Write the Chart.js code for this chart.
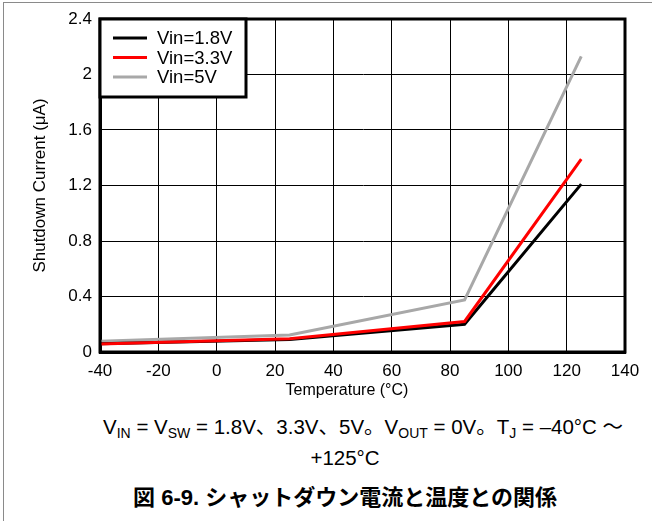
<!DOCTYPE html>
<html>
<head>
<meta charset="utf-8">
<script src="https://cdn.jsdelivr.net/npm/chart.js@4.4.1/dist/chart.umd.min.js"></script>
<style>
  html, body { margin: 0; padding: 0; background: #fff; }
  #wrap { position: relative; width: 652px; height: 521px; overflow: hidden;
          font-family: Arial, "Liberation Sans", "Noto Sans CJK JP", sans-serif; color: #000; }
  #frame { position: absolute; left: 3px; top: 2px; width: 700px; height: 600px;
           border-left: 1px solid #8a8a8a; border-top: 1px solid #8a8a8a; }
  #chart { position: absolute; left: 0; top: 0; }
  .cap { position: absolute; white-space: nowrap; font-size: 20.5px; line-height: 24px; }
  .cap sub { font-size: 14px; vertical-align: -4px; line-height: 0; }
  #cap1 { left: 103px; top: 415px; text-align: left; }
  #cap2 { left: 45px; width: 600px; top: 446px; text-align: center; }
  #fig  { left: 45px; width: 600px; top: 486px; text-align: center; font-weight: bold; font-size: 22px; }
</style>
</head>
<body>
<div id="wrap">
  <div id="frame"></div>
  <canvas id="chart" width="652" height="400"></canvas>
  <div class="cap" id="cap1">V<sub>IN</sub> = V<sub>SW</sub> = 1.8V、3.3V、5V。V<sub>OUT</sub> = 0V。T<sub>J</sub> = –40°C ～</div>
  <div class="cap" id="cap2">+125°C</div>
  <div class="cap" id="fig">図 6-9. シャットダウン電流と温度との関係</div>
</div>
<script>
// ===== DATA =====
const temps = [-40, 25, 85, 125];
const vin18 = [0.06, 0.09, 0.20, 1.21];
const vin33 = [0.058, 0.095, 0.22, 1.39];
const vin50 = [0.077, 0.122, 0.375, 2.13];
const seriesLabels = ['Vin=1.8V', 'Vin=3.3V', 'Vin=5V'];
const xTicks = [-40, -20, 0, 20, 40, 60, 80, 100, 120, 140];
const yTicks = [0, 0.4, 0.8, 1.2, 1.6, 2, 2.4];

const FONT = 'Arial, "Liberation Sans", sans-serif';

function pts(ys) {
    return temps.map((t, i) => ({ x: t, y: ys[i] }));
}

// plot frame: top + right edges (left/bottom come from the axis borders)
const frameBox = {
    id: 'frameBox',
    afterDatasetsDraw(chart) {
        const { ctx, chartArea: a } = chart;
        ctx.save();
        ctx.strokeStyle = '#000';
        ctx.lineWidth = 3;
        ctx.strokeRect(a.left, a.top, a.right - a.left, a.bottom - a.top);
        ctx.restore();
    }
};

// boxed legend in the top-left corner of the plot
const boxLegend = {
    id: 'boxLegend',
    afterDraw(chart) {
        const { ctx, chartArea: a } = chart;
        const w = 146, h = 78;
        ctx.save();
        ctx.fillStyle = '#fff';
        ctx.fillRect(a.left, a.top, w, h);
        ctx.strokeStyle = '#000';
        ctx.lineWidth = 3;
        ctx.strokeRect(a.left, a.top, w, h);
        ctx.font = '18.5px ' + FONT;
        ctx.textBaseline = 'middle';
        chart.data.datasets.forEach((ds, i) => {
            const y = a.top + 19 + i * 19.5;
            ctx.strokeStyle = ds.borderColor;
            ctx.lineWidth = 3;
            ctx.beginPath();
            ctx.moveTo(a.left + 13, y);
            ctx.lineTo(a.left + 47, y);
            ctx.stroke();
            ctx.fillStyle = '#000';
            ctx.fillText(ds.label, a.left + 57, y + 1);
        });
        ctx.restore();
    }
};

new Chart(document.getElementById('chart'), {
    type: 'line',
    data: {
        datasets: [
            { label: seriesLabels[0], data: pts(vin18), borderColor: '#000000', order: 1 },
            { label: seriesLabels[1], data: pts(vin33), borderColor: '#ff0000', order: 0 },
            { label: seriesLabels[2], data: pts(vin50), borderColor: '#a8a8a8', order: 2 }
        ]
    },
    options: {
        responsive: false,
        animation: false,
        devicePixelRatio: 1,
        layout: { padding: { top: 19, right: 27, left: 0, bottom: 0 } },
        elements: {
            line: { borderWidth: 3, tension: 0, borderCapStyle: 'butt' },
            point: { radius: 0, hoverRadius: 0 }
        },
        plugins: { legend: { display: false }, tooltip: { enabled: false } },
        scales: {
            x: {
                type: 'linear',
                min: -40, max: 140,
                afterBuildTicks: s => { s.ticks = xTicks.map(v => ({ value: v })); },
                afterFit: s => { s.height = 48; },
                grid: { color: '#000', lineWidth: 1, drawTicks: false },
                border: { color: '#000', width: 3 },
                ticks: { color: '#000', font: { family: FONT, size: 17 }, padding: 9, autoSkip: false, maxRotation: 0,
                         callback: v => String(v) },
                // trailing spaces pull the centred title a bit left, as in the original
                title: { display: true, text: 'Temperature (°C)' + '\u00a0'.repeat(7), color: '#000',
                         font: { family: FONT, size: 16 }, padding: { top: 0, bottom: 0 } }
            },
            y: {
                min: 0, max: 2.4,
                afterBuildTicks: s => { s.ticks = yTicks.map(v => ({ value: v })); },
                afterFit: s => { s.width = 100; },
                grid: { color: '#000', lineWidth: 1, drawTicks: false },
                border: { color: '#000', width: 3 },
                ticks: { color: '#000', font: { family: FONT, size: 17 }, padding: 8,
                         callback: v => String(+v.toFixed(1)) },
                title: { display: true, text: 'Shutdown Current (\u03bcA)', color: '#000',
                         font: { family: FONT, size: 17 }, padding: { top: 30, bottom: 0 } }
            }
        }
    },
    plugins: [frameBox, boxLegend]
});
</script>
</body>
</html>
